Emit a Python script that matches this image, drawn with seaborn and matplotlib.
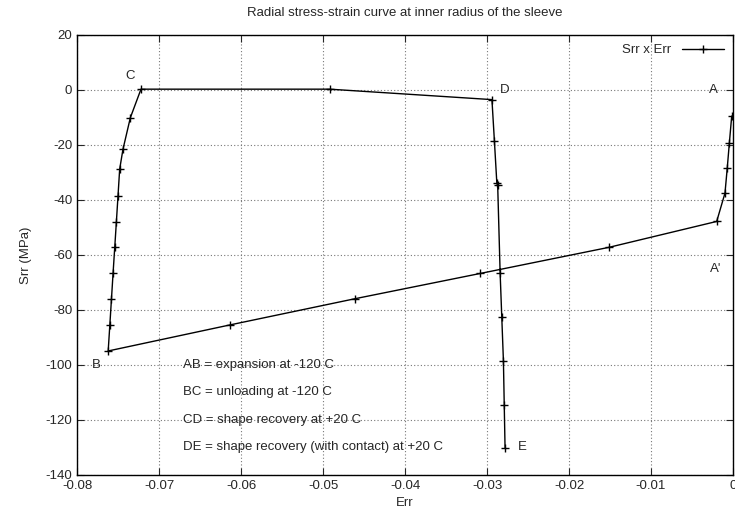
import matplotlib
matplotlib.use("Agg")
import matplotlib.pyplot as plt
import seaborn as sns
import pandas as pd

# path A -> A' -> B -> C -> D -> E (strain, stress in MPa)
err = [-0.00016, -0.00045, -0.0007, -0.00098, -0.00199,
       -0.0151, -0.0308, -0.0461, -0.0613, -0.0762,
       -0.0760, -0.0758, -0.0756, -0.0754, -0.0752, -0.0750, -0.0748, -0.0744, -0.0735, -0.0722,
       -0.0492, -0.0294,
       -0.0291, -0.0288, -0.0287, -0.0284, -0.0282, -0.0280, -0.0279, -0.0278]
srr = [-9.5, -19.4, -28.3, -37.5, -47.8,
       -57.2, -66.7, -75.9, -85.4, -94.9,
       -85.5, -76.0, -66.4, -57.2, -47.9, -38.4, -28.8, -21.6, -10.1, 0.3,
       0.3, -3.5,
       -18.5, -34.0, -34.6, -66.6, -82.6, -98.5, -114.5, -130.3]

point_labels = ["A", "A'", "B", "C", "D", "E"]
label_x = [-0.0024, -0.0021, -0.0776, -0.0735, -0.0279, -0.0257]
label_y = [0, -65, -100, 5, 0, -130]

notes = ["AB = expansion at -120 C",
         "BC = unloading at -120 C",
         "CD = shape recovery at +20 C",
         "DE = shape recovery (with contact) at +20 C"]
note_y = [-100, -110, -120, -130]

df = pd.DataFrame({"Err": err, "Srr": srr})

sns.set_style("ticks")
plt.rcParams["font.family"] = ["Liberation Sans", "DejaVu Sans"]
plt.rcParams["axes.unicode_minus"] = False

fig = plt.figure(figsize=(7.35, 5.23), dpi=100)
ax = fig.add_axes([0.1048, 0.0918, 0.8925, 0.8413])

sns.lineplot(data=df, x="Err", y="Srr", sort=False, estimator=None, color="black",
             linewidth=1.0, marker="+", markersize=6, markeredgewidth=1.0,
             markeredgecolor="black", label="Srr x Err", ax=ax)

ax.set_xlim(-0.08, 0)
ax.set_ylim(-140, 20)
ax.set_xticks([-0.08, -0.07, -0.06, -0.05, -0.04, -0.03, -0.02, -0.01, 0])
ax.set_xticklabels(["-0.08", "-0.07", "-0.06", "-0.05", "-0.04", "-0.03", "-0.02", "-0.01", "0"])
ax.set_yticks(range(-140, 21, 20))
ax.grid(True, linestyle=(0, (1, 2)), color="#777777", linewidth=0.8)
ax.tick_params(direction="in", length=5, top=True, right=True, labelsize=9.5, width=0.8)
for s in ax.spines.values():
    s.set_linewidth(1.0)
    s.set_color("black")

for t, x, y in zip(point_labels, label_x, label_y):
    ax.text(x, y, t, fontsize=9.5, ha="center", va="center")
for t, y in zip(notes, note_y):
    ax.text(-0.0671, y, t, fontsize=9.5, ha="left", va="center")

ax.set_xlabel("Err", fontsize=9.5, labelpad=4)
ax.set_ylabel("Srr (MPa)", fontsize=9.5, labelpad=10)
ax.set_title("Radial stress-strain curve at inner radius of the sleeve", fontsize=9.5, pad=14)

leg = ax.legend(loc="upper right", frameon=False, markerfirst=False, fontsize=9.5,
                handlelength=3.2, borderaxespad=0.3)

fig.savefig("out.png", dpi=100)
